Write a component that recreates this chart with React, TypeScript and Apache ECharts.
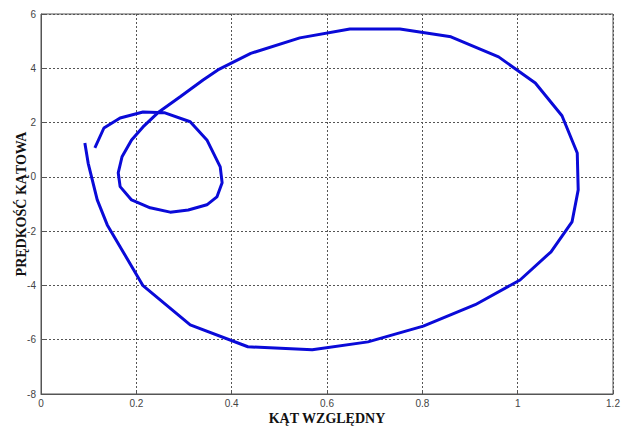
import React, { useEffect, useRef } from "react";
import * as echarts from "echarts";

// Phase trajectory: relative angle (x) vs angular velocity (y)
const angle = [
  0.113, 0.132, 0.166, 0.214, 0.26, 0.313, 0.348, 0.376, 0.38, 0.369, 0.348,
  0.309, 0.271, 0.229, 0.19, 0.166, 0.162, 0.17, 0.19, 0.214, 0.245, 0.292,
  0.34, 0.371, 0.44, 0.543, 0.648, 0.753, 0.86, 0.96, 1.037, 1.093, 1.125,
  1.127, 1.114, 1.07, 1.005, 0.911, 0.802, 0.686, 0.569, 0.434, 0.313, 0.214,
  0.139, 0.118, 0.099, 0.092,
];
const velocity = [
  1.07, 1.8, 2.17, 2.39, 2.36, 2.03, 1.36, 0.37, -0.22, -0.74, -1.03, -1.22,
  -1.3, -1.14, -0.85, -0.36, 0.15, 0.74, 1.36, 1.84, 2.36, 2.95, 3.57, 3.94,
  4.55, 5.12, 5.45, 5.45, 5.16, 4.42, 3.46, 2.25, 0.88, -0.48, -1.66, -2.76,
  -3.8, -4.71, -5.5, -6.08, -6.37, -6.26, -5.45, -4.01, -1.77, -0.85, 0.5,
  1.25,
];
const xTicks = { min: 0, max: 1.2, interval: 0.2 };
const yTicks = { min: -8, max: 6, interval: 2 };

const gridLine = { show: true, lineStyle: { color: "#555", type: [2, 2] as any, width: 1 } };
const tickLabel = { color: "#444", fontSize: 10, fontFamily: "Liberation Sans Narrow, Liberation Sans, Arial, sans-serif" };
const axisName = {
  fontFamily: "Liberation Serif, Times New Roman, serif",
  fontWeight: "bold" as const,
  fontSize: 14,
  color: "#111",
};

export default function App() {
  const ref = useRef<HTMLDivElement>(null);
  useEffect(() => {
    if (!ref.current) return;
    const chart = echarts.init(ref.current, undefined, { renderer: "svg" });
    chart.setOption({
      animation: false,
      backgroundColor: "#fff",
      grid: {
        left: 41,
        right: 16,
        top: 14,
        bottom: 33,
        containLabel: false,
        outerBoundsMode: "none",
        show: true,
        borderColor: "#555",
        borderWidth: 1,
      },
      xAxis: {
        type: "value",
        ...xTicks,
        name: "KĄT WZGLĘDNY",
        nameLocation: "middle",
        nameGap: 17,
        nameMoveOverlap: false,
        nameTextStyle: axisName,
        axisLine: { show: true, onZero: false, lineStyle: { color: "#555" } },
        axisTick: { show: true, inside: true, length: 4, lineStyle: { color: "#555" } },
        axisLabel: { ...tickLabel, margin: 4 },
        splitLine: gridLine,
      },
      yAxis: {
        type: "value",
        ...yTicks,
        name: "PRĘDKOŚĆ KĄTOWA",
        nameLocation: "middle",
        nameGap: 13,
        nameMoveOverlap: false,
        nameTextStyle: axisName,
        axisLine: { show: true, onZero: false, lineStyle: { color: "#555" } },
        axisTick: { show: true, inside: true, length: 4, lineStyle: { color: "#555" } },
        axisLabel: { ...tickLabel, margin: 5 },
        splitLine: gridLine,
      },
      series: [
        {
          type: "line",
          data: angle.map((a, i) => [a, velocity[i]]),
          showSymbol: false,
          smooth: false,
          lineStyle: { color: "#0a0ad8", width: 3 },
        },
      ],
    });
    return () => chart.dispose();
  }, []);
  return <div ref={ref} style={{ width: 629, height: 427, position: "fixed", left: 0, top: 0 }} />;
}
